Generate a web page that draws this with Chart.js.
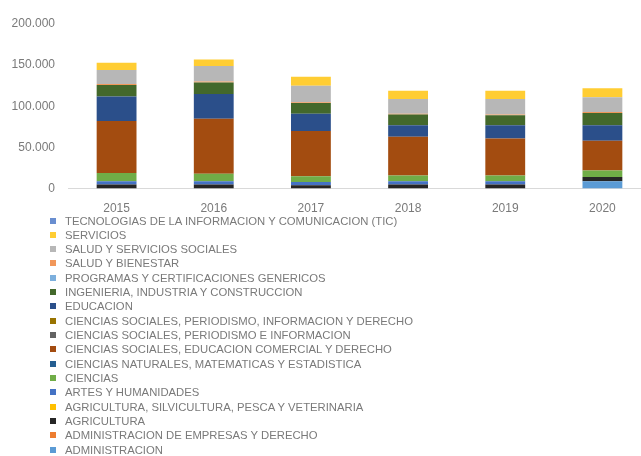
<!DOCTYPE html>
<html lang="es">
<head>
  <meta charset="UTF-8">
  <title>Matriculados por campo</title>
  <script src="https://cdn.jsdelivr.net/npm/chart.js@4.4.1/dist/chart.umd.min.js"></script>
  <style>
    body { margin: 0; width: 641px; height: 456px; overflow: hidden; background: #fff; position: relative; }
    #wrap { position: absolute; left: 0; top: 0; width: 651px; height: 229px; }
    #legend { position: absolute; left: 50px; top: 213.5px; font: 11.3px "Liberation Sans", Arial, sans-serif; color: #7a7a7a; }
    #legend div { height: 14.33px; line-height: 14.33px; white-space: nowrap; }
    #legend span { display: inline-block; width: 6px; height: 6px; margin-right: 9px; vertical-align: 1px; }
  </style>
</head>
<body>
<div id="wrap"><canvas id="chart"></canvas></div>
<div id="legend"></div>

<script>
  const years = ['2015', '2016', '2017', '2018', '2019', '2020'];

  const seriesNames = [
    'ADMINISTRACION',
    'ADMINISTRACION DE EMPRESAS Y DERECHO',
    'AGRICULTURA',
    'AGRICULTURA, SILVICULTURA, PESCA Y VETERINARIA',
    'ARTES Y HUMANIDADES',
    'CIENCIAS',
    'CIENCIAS NATURALES, MATEMATICAS Y ESTADISTICA',
    'CIENCIAS SOCIALES, EDUCACION COMERCIAL Y DERECHO',
    'CIENCIAS SOCIALES, PERIODISMO E INFORMACION',
    'CIENCIAS SOCIALES, PERIODISMO, INFORMACION Y DERECHO',
    'EDUCACION',
    'INGENIERIA, INDUSTRIA Y CONSTRUCCION',
    'PROGRAMAS Y CERTIFICACIONES GENERICOS',
    'SALUD Y BIENESTAR',
    'SALUD Y SERVICIOS SOCIALES',
    'SERVICIOS',
    'TECNOLOGIAS DE LA INFORMACION Y COMUNICACION (TIC)'
  ];

  // values per year, 2015..2020
  const administracion      = [0, 0, 0, 0, 0, 9000];
  const adminEmpresas       = [0, 0, 0, 0, 0, 0];
  const agricultura         = [5000, 5000, 4000, 5000, 5000, 5000];
  const agriSilvicultura    = [0, 0, 0, 0, 0, 0];
  const artes               = [4000, 4000, 4000, 4000, 4000, 0];
  const ciencias            = [10000, 9000, 7000, 7000, 7000, 8000];
  const cienciasNaturales   = [0, 0, 0, 0, 0, 0];
  const csEducComercial     = [63000, 67000, 55000, 47000, 45000, 36000];
  const csPeriodismo        = [0, 0, 0, 0, 0, 0];
  const csPeriodismoDerecho = [0, 0, 0, 0, 0, 0];
  const educacion           = [30000, 30000, 21000, 14000, 16000, 19000];
  const ingenieria          = [14000, 14000, 13000, 13000, 12000, 15000];
  const programas           = [0, 0, 0, 0, 0, 0];
  const saludBienestar      = [1000, 1000, 1000, 1000, 1000, 1000];
  const saludServicios      = [17000, 19000, 20000, 18000, 19000, 18000];
  const servicios           = [9000, 8000, 11000, 10000, 10000, 11000];
  const tic                 = [0, 0, 0, 0, 0, 0];

  const seriesValues = [
    administracion, adminEmpresas, agricultura, agriSilvicultura, artes, ciencias,
    cienciasNaturales, csEducComercial, csPeriodismo, csPeriodismoDerecho, educacion,
    ingenieria, programas, saludBienestar, saludServicios, servicios, tic
  ];

  const colors = [
    '#5B9BD5', '#ED7D31', '#262626', '#FFC000', '#4472C4', '#70AD47',
    '#255E91', '#A34C10', '#636363', '#997300', '#2B4F8A', '#43682B',
    '#7CAFDD', '#F1975A', '#B7B7B7', '#FFCD33', '#698ED0'
  ];

  const yTicks = [0, 50000, 100000, 150000, 200000];

  function fmt(v) {
    return String(v).replace(/\B(?=(\d{3})+(?!\d))/g, '.');
  }

  const datasets = seriesNames.map((name, i) => ({
    label: name,
    data: seriesValues[i],
    backgroundColor: colors[i],
    borderWidth: 0,
    categoryPercentage: 1,
    barPercentage: 0.41
  }));

  Chart.defaults.font.family = '"Liberation Sans", Arial, sans-serif';
  Chart.defaults.color = '#7a7a7a';

  const ctx = document.getElementById('chart').getContext('2d');
  new Chart(ctx, {
    type: 'bar',
    data: { labels: years, datasets },
    options: {
      responsive: true,
      maintainAspectRatio: false,
      animation: false,
      devicePixelRatio: 1,
      layout: { padding: { top: 24, left: 0, right: 0, bottom: 0 } },
      plugins: { legend: { display: false }, tooltip: { enabled: false } },
      scales: {
        x: {
          stacked: true,
          grid: { display: false, drawTicks: false },
          border: { display: true, color: '#d9d9d9', width: 1 },
          ticks: { padding: 13, font: { size: 12 } }
        },
        y: {
          stacked: true,
          min: yTicks[0],
          max: yTicks[yTicks.length - 1],
          afterFit: s => { s.width = 68; },
          afterBuildTicks: s => { s.ticks = yTicks.map(v => ({ value: v })); },
          grid: { display: false, drawTicks: false },
          border: { display: false },
          ticks: { padding: 13, font: { size: 12 }, callback: v => fmt(v) }
        }
      }
    }
  });

  // legend listed in reverse stacking order, like the original
  document.getElementById('legend').innerHTML = seriesNames.map((name, i) =>
    `<div><span style="background:${colors[i]}"></span>${name}</div>`
  ).reverse().join('');
</script>
</body>
</html>
